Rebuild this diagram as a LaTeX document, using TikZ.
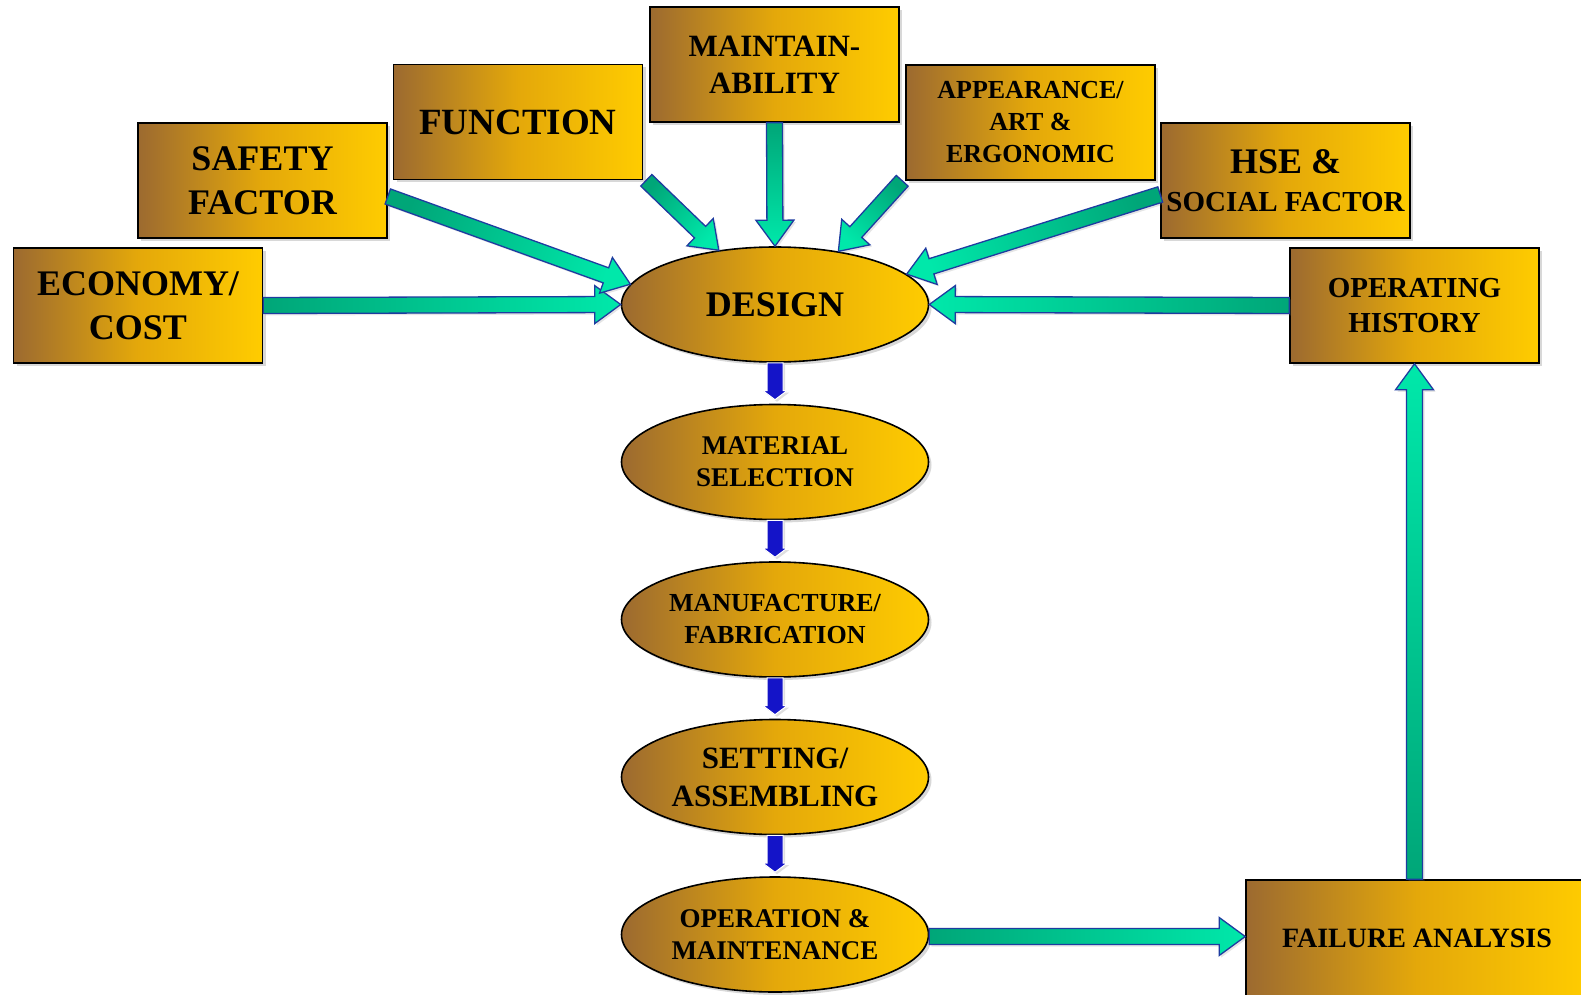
\documentclass[tikz,border=0pt]{standalone}
\usepackage{fontspec}
\setmainfont{Liberation Serif}
\usetikzlibrary{calc,positioning,shapes.geometric,shadows}
\definecolor{boxbrown}{RGB}{156,106,48}
\definecolor{boxgold}{RGB}{228,168,10}
\definecolor{boxyellow}{RGB}{255,204,0}
\definecolor{arrowdark}{RGB}{0,166,120}
\definecolor{arrowlight}{RGB}{0,232,170}
\definecolor{arrowrim}{RGB}{30,60,160}
\definecolor{stepblue}{RGB}{20,20,200}
\tikzset{%
  % Specifications for style of nodes:
      goldbase/.style = {draw=black, line width=1.6pt,
                         left color=boxbrown, right color=boxyellow, middle color=boxgold,
                         text centered, align=center, inner sep=0pt,
                         drop shadow={opacity=0.3, shadow xshift=3pt, shadow yshift=-3pt}},
        factor/.style = {goldbase, rectangle, minimum width=249pt, minimum height=115pt},
         stage/.style = {goldbase, ellipse, minimum width=307pt, minimum height=115pt},
  % Specifications for style of arrows:
      flowbody/.style = {draw=arrowrim, line width=1.3pt, top color=arrowlight, bottom color=arrowdark,
                         drop shadow={opacity=0.2, shadow xshift=2pt, shadow yshift=-2pt}},
      stepbody/.style = {fill=stepblue, draw=white, line width=1pt,
                         drop shadow={opacity=0.25, shadow xshift=2pt, shadow yshift=-2pt}}
}
% block arrow: style, tail, head, half shaft, half head, head length
\newcommand{\blockarrow}[6]{%
  \coordinate (neck) at ($(#3)!#6!(#2)$);
  \path[#1] ($(#2)!#4!90:(#3)$) -- ($(neck)!#4!-90:(#2)$) -- ($(neck)!#5!-90:(#2)$)
    -- (#3) -- ($(neck)!#5!90:(#2)$) -- ($(neck)!#4!90:(#2)$) -- ($(#2)!#4!-90:(#3)$) -- cycle;
}

\begin{document}
\begin{tikzpicture}[x=1pt, y=1pt, node distance=157.5pt]
  \fill[white, use as bounding box] (0,0) rectangle (1581,-995);
  \clip (0,0) rectangle (1581,-995);

  \node (design)  [stage, font=\bfseries\fontsize{36}{44}\selectfont] at (775,-304.5) {DESIGN};
  \node (material)[stage, below of=design, font=\bfseries\fontsize{27}{32}\selectfont] {MATERIAL\\SELECTION};
  \node (manufact)[stage, below of=material, font=\bfseries\fontsize{26}{32}\selectfont] {MANUFACTURE/\\FABRICATION};
  \node (setting) [stage, below of=manufact, font=\bfseries\fontsize{31}{38}\selectfont] {SETTING/\\ASSEMBLING};
  \node (operation)[stage, below of=setting, font=\bfseries\fontsize{27}{32}\selectfont] {OPERATION \&\\MAINTENANCE};

  \node (econ)    [factor, font=\bfseries\fontsize{36}{44}\selectfont] at (138,-305.5) {ECONOMY/\\COST};
  \node (safety)  [factor, font=\bfseries\fontsize{36}{44}\selectfont] at (262.5,-180.5) {SAFETY\\FACTOR};
  \node (function)[factor, font=\bfseries\fontsize{37}{44}\selectfont] at (518,-122) {FUNCTION};
  \node (maint)   [factor, font=\bfseries\fontsize{31}{37}\selectfont] at (774.5,-64.5) {MAINTAIN-\\ABILITY};
  \node (appear)  [factor, font=\bfseries\fontsize{26}{32}\selectfont] at (1030.5,-122.5) {APPEARANCE/\\ART \&\\ERGONOMIC};
  \node (hse)     [factor, font=\bfseries\fontsize{29}{38}\selectfont] at (1285.5,-180.5) {{\fontsize{36}{40}\selectfont HSE \&}\\SOCIAL FACTOR};
  \node (ophist)  [factor, font=\bfseries\fontsize{29}{35}\selectfont] at (1414.5,-305.5) {OPERATING\\HISTORY};
  \node (failure) [factor, minimum width=342pt, minimum height=116pt, font=\bfseries\fontsize{28}{34}\selectfont] at (1417,-938) {FAILURE ANALYSIS};

  % factors feeding the design
  \blockarrow{flowbody, shading angle=-90}{econ.east}{design.west}{8pt}{19pt}{26pt}
  \blockarrow{flowbody, shading angle=-110}{[yshift=-16pt]safety.east}{design.172}{8pt}{19pt}{26pt}
  \blockarrow{flowbody, shading angle=-132}{[xshift=3pt]function.south east}{design.136}{8pt}{19pt}{26pt}
  \blockarrow{flowbody, shading angle=-180}{maint.south}{design.north}{8pt}{19pt}{26pt}
  \blockarrow{flowbody, shading angle=-222}{[xshift=-3pt]appear.south west}{design.40}{8pt}{19pt}{26pt}
  \blockarrow{flowbody, shading angle=-252}{[yshift=-14pt]hse.west}{design.13}{8pt}{19pt}{26pt}
  \blockarrow{flowbody, shading angle=90}{ophist.west}{design.east}{8pt}{19pt}{26pt}

  % feedback loop
  \blockarrow{flowbody, shading angle=-90}{[yshift=-2pt]operation.east}{[yshift=-2pt]operation.east -| failure.west}{8pt}{19pt}{26pt}
  \blockarrow{flowbody, shading angle=0}{failure.north -| ophist.south}{ophist.south}{8pt}{19pt}{26pt}

  % process steps
  \blockarrow{stepbody}{design.south}{[yshift=4pt]material.north}{8pt}{12pt}{9pt}
  \blockarrow{stepbody}{material.south}{[yshift=4pt]manufact.north}{8pt}{12pt}{9pt}
  \blockarrow{stepbody}{manufact.south}{[yshift=4pt]setting.north}{8pt}{12pt}{9pt}
  \blockarrow{stepbody}{setting.south}{[yshift=4pt]operation.north}{8pt}{12pt}{9pt}
\end{tikzpicture}
\end{document}
